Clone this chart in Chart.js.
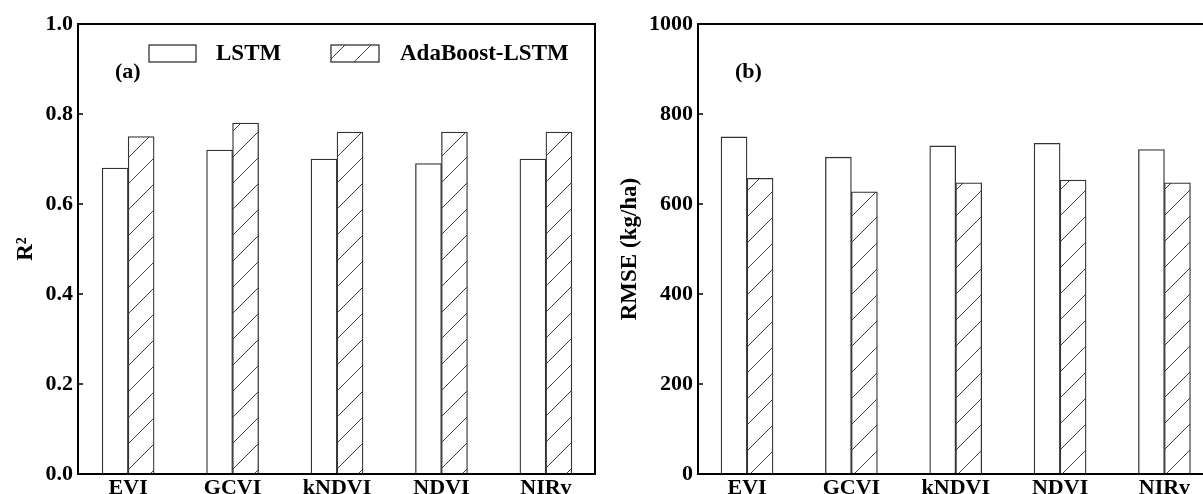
<!DOCTYPE html>
<html>
<head>
<meta charset="utf-8">
<script src="https://cdn.jsdelivr.net/npm/chart.js@4.4.1/dist/chart.umd.min.js"></script>
<style>
  html, body { margin:0; padding:0; background:#fff; overflow:hidden; width:1203px; height:494px; }
  #ca { position:absolute; left:0; top:0; }
  #cb { position:absolute; left:600px; top:0; }
</style>
</head>
<body>
<canvas id="ca" width="600" height="494"></canvas>
<canvas id="cb" width="620" height="494"></canvas>
<script>
// ---- data ----
const categories = ['EVI', 'GCVI', 'kNDVI', 'NDVI', 'NIRv'];
const seriesNames = ['LSTM', 'AdaBoost-LSTM'];
const r2LSTM = [0.68, 0.72, 0.70, 0.69, 0.70];
const r2Ada = [0.75, 0.78, 0.76, 0.76, 0.76];
const rmseLSTM = [749, 704, 729, 735, 721];
const rmseAda = [657, 627, 647, 653, 647];
const r2Ticks = [0.0, 0.2, 0.4, 0.6, 0.8, 1.0];
const rmseTicks = [0, 200, 400, 600, 800, 1000];

const FONT = "'Liberation Serif', 'Times New Roman', serif";
const EDGE = '#333';

function makeHatch() {
  const s = 26;
  const c = document.createElement('canvas');
  c.width = s; c.height = s;
  const g = c.getContext('2d');
  g.fillStyle = '#fff';
  g.fillRect(0, 0, s, s);
  g.strokeStyle = '#444';
  g.lineWidth = 1;
  g.beginPath();
  g.moveTo(-2, s + 2); g.lineTo(s + 2, -2);
  g.moveTo(-2, 2); g.lineTo(2, -2);
  g.moveTo(s - 2, s + 2); g.lineTo(s + 2, s - 2);
  g.stroke();
  return g.createPattern(c, 'repeat');
}
const hatch = makeHatch();

const deco = {
  id: 'deco',
  afterDraw(chart, args, opts) {
    const ctx = chart.ctx;
    const a = chart.chartArea;
    ctx.save();
    // inward y ticks
    const ys = chart.scales.y;
    ctx.strokeStyle = '#000';
    ctx.lineWidth = 1.3;
    ctx.beginPath();
    ys.ticks.forEach(t => {
      const p = ys.getPixelForValue(t.value);
      if (Math.abs(p - a.top) < 1 || Math.abs(p - a.bottom) < 1) return;
      ctx.moveTo(a.left, p); ctx.lineTo(a.left + 5, p);
    });
    ctx.stroke();
    // frame
    ctx.lineWidth = 2;
    ctx.strokeStyle = '#000';
    ctx.strokeRect(a.left, a.top, a.right - a.left, a.bottom - a.top);
    // panel tag
    ctx.fillStyle = '#000';
    ctx.font = 'bold 22px ' + FONT;
    ctx.textBaseline = 'middle';
    ctx.textAlign = 'left';
    ctx.fillText(opts.tag, opts.tagX, opts.tagY);
    // legend
    if (opts.legend) {
      const ds = chart.data.datasets;
      opts.legend.forEach((L, i) => {
        ctx.fillStyle = ds[i].backgroundColor;
        ctx.fillRect(L.x, L.y, L.w, L.h);
        ctx.strokeStyle = EDGE;
        ctx.lineWidth = 1.3;
        ctx.strokeRect(L.x, L.y, L.w, L.h);
        ctx.fillStyle = '#000';
        ctx.font = 'bold 23px ' + FONT;
        ctx.fillText(ds[i].label, L.tx, L.y + L.h / 2 + 1);
      });
    }
    ctx.restore();
  }
};

function fixedWidth(w) { return s => { s.width = w; }; }
function fixedHeight(h) { return s => { s.height = h; }; }

function build(id, lstm, ada, yTicks, yTitle, yWidth, titlePad, xmin, xmax, padRight, decoOpts) {
  const ymin = yTicks[0], ymax = yTicks[yTicks.length - 1];
  return new Chart(document.getElementById(id), {
    type: 'bar',
    data: {
      datasets: [
        { label: seriesNames[0], data: categories.map((c, i) => ({ x: i, y: lstm[i] })),
          backgroundColor: '#ffffff', borderColor: EDGE, borderWidth: 1.3, barThickness: 26 },
        { label: seriesNames[1], data: categories.map((c, i) => ({ x: i, y: ada[i] })),
          backgroundColor: hatch, borderColor: EDGE, borderWidth: 1.3, barThickness: 26 }
      ]
    },
    options: {
      responsive: false,
      animation: false,
      layout: { padding: { left: 0, right: padRight, top: 24, bottom: 0 } },
      plugins: { legend: { display: false }, tooltip: { enabled: false }, deco: decoOpts },
      scales: {
        x: {
          type: 'linear', min: xmin, max: xmax, offset: false,
          grid: { display: false, drawTicks: false, offset: false },
          border: { display: false },
          afterBuildTicks: s => { s.ticks = categories.map((c, i) => ({ value: i })); },
          afterFit: fixedHeight(20),
          ticks: {
            autoSkip: false, maxRotation: 0, padding: 1,
            color: '#000', font: { family: FONT, size: 22, weight: 'bold' },
            callback: v => categories[v]
          }
        },
        y: {
          min: ymin, max: ymax,
          grid: { display: false, drawTicks: false },
          border: { display: false },
          afterBuildTicks: s => { s.ticks = yTicks.map(v => ({ value: v })); },
          afterFit: fixedWidth(yWidth),
          ticks: {
            padding: 5, color: '#000', font: { family: FONT, size: 22, weight: 'bold' },
            callback: v => (ymax <= 1 ? v.toFixed(1) : String(v))
          },
          title: {
            display: true, text: yTitle, color: '#000',
            font: { family: FONT, size: 23, weight: 'bold' },
            padding: { top: titlePad, bottom: 0 }
          }
        }
      }
    },
    plugins: [deco]
  });
}

build('ca', r2LSTM, r2Ada, r2Ticks, 'R²', 78, 12, -0.48, 4.47, 5, {
  tag: '(a)', tagX: 115, tagY: 72,
  legend: [
    { x: 149, y: 45, w: 47, h: 17, tx: 216 },
    { x: 331, y: 45, w: 48, h: 17, tx: 400 }
  ]
});
build('cb', rmseLSTM, rmseAda, rmseTicks, 'RMSE (kg/ha)', 98, 16, -0.47, 4.475, 6, {
  tag: '(b)', tagX: 135, tagY: 72
});
</script>
</body>
</html>
